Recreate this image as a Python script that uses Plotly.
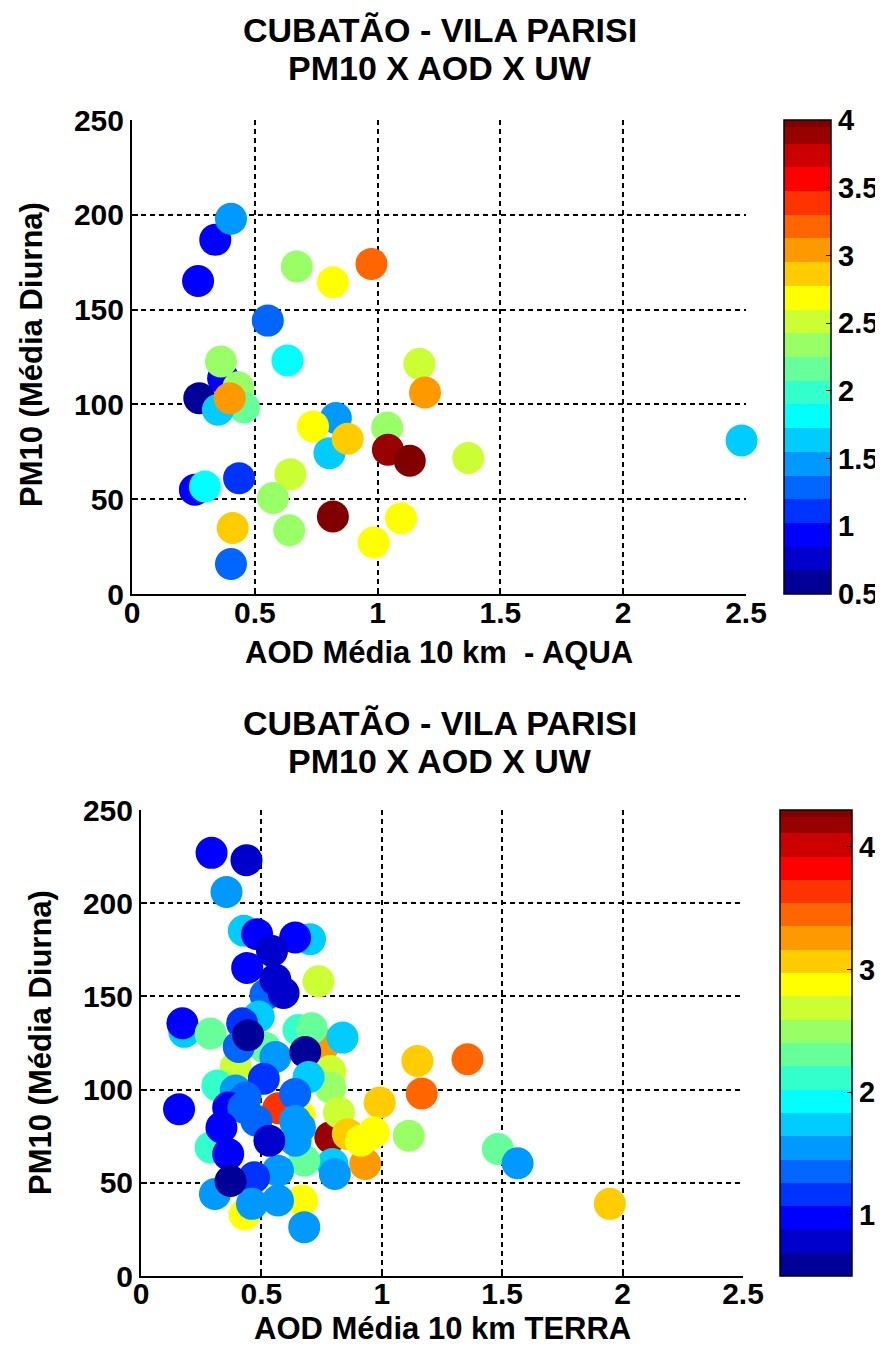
import numpy as np
import plotly.graph_objects as go

# ---------------- data ----------------
# Top panel: AQUA
aqua_aod = [0.371, 0.362, 0.433, 0.456, 0.274, 0.350, 0.398,
            0.339, 0.403, 0.269, 0.671, 0.818, 0.975, 0.553, 0.633, 1.170, 1.193,
            0.830, 0.737, 0.804, 0.878, 1.039, 1.042, 1.131, 1.369, 2.482,
            0.256, 0.297, 0.436, 0.645, 0.574, 0.818, 1.095, 0.410, 0.640, 0.984, 0.403]
aqua_pm10 = [113.8, 122.6, 109.0, 98.4, 103.3, 97.2, 103.3,
             186.8, 197.9, 165.1, 172.7, 164.4, 174.1, 144.2, 123.2, 121.4, 106.3,
             92.8, 88.4, 74.3, 81.9, 87.8, 76.1, 70.3, 71.7, 81.0,
             55.0, 56.7, 61.1, 63.2, 50.6, 40.9, 40.0, 34.8, 33.6, 27.2, 15.8]
aqua_uw = [0.94, 2.34, 2.34, 2.16, 0.59, 1.64, 3.04,
           0.94, 1.46, 0.94, 2.34, 2.69, 3.21, 1.29, 1.81, 2.51, 3.04,
           1.46, 2.69, 1.64, 2.86, 2.34, 3.91, 4.00, 2.51, 1.64,
           0.94, 1.81, 1.11, 2.51, 2.34, 4.00, 2.69, 2.86, 2.34, 2.69, 1.29]

# Bottom panel: TERRA
terra_aod = [0.427, 0.702, 0.517, 0.180, 0.489, 0.760, 0.515, 0.393, 0.786, 0.570,
             0.660, 0.786, 0.430, 0.669, 0.931,
             0.293, 0.438, 0.355, 0.482, 0.640, 0.544, 0.441, 0.558, 0.592, 0.737,
             0.172, 0.289, 0.654, 0.709, 0.837, 0.558, 0.420, 0.406, 0.445, 0.682,
             0.317, 0.393, 0.786, 0.822, 0.696, 0.510, 0.640, 0.158, 0.434, 0.640,
             1.148, 1.356, 1.166, 0.991, 1.112, 1.482, 1.564, 1.947, 0.859, 0.913,
             0.967, 0.795, 0.805,
             0.678, 0.289, 0.362, 0.425, 0.479, 0.334, 0.660, 0.642, 0.362, 0.569,
             0.533, 0.307, 0.470, 0.461, 0.569, 0.678, 0.372]
terra_pm10 = [185.2, 180.7, 150.9, 131.0, 139.2, 124.0, 122.5, 112.1, 110.0, 90.0,
              86.0, 74.4, 33.0, 40.5, 60.1,
              227.0, 223.1, 206.0, 183.4, 181.6, 174.4, 165.3, 159.0, 151.8, 158.1,
              135.6, 130.1, 132.0, 132.9, 127.9, 117.5, 135.6, 122.9, 129.2, 120.2,
              102.2, 99.5, 101.1, 87.7, 106.7, 105.8, 97.7, 89.5, 95.8, 83.2,
              115.4, 116.3, 97.9, 93.1, 75.3, 68.1, 60.5, 38.7, 76.1, 72.6,
              77.0, 60.1, 54.7,
              61.9, 69.0, 90.4, 90.4, 83.3, 79.7, 79.7, 72.6, 65.4, 56.5,
              72.6, 44.0, 53.0, 38.7, 40.5, 26.2, 51.0]
terra_uw = [1.74, 1.74, 1.36, 1.74, 1.74, 3.26, 2.31, 2.69, 2.69, 3.64,
            2.88, 4.21, 2.88, 2.88, 3.26,
            0.98, 0.79, 1.55, 0.98, 0.98, 0.79, 0.98, 0.79, 0.79, 2.69,
            0.98, 2.31, 2.12, 2.31, 1.74, 1.55, 1.17, 1.36, 0.60, 0.60,
            2.12, 1.55, 2.50, 2.69, 1.74, 1.17, 1.36, 0.98, 1.36, 1.55,
            3.07, 3.45, 3.45, 3.07, 2.50, 2.31, 1.55, 3.07, 3.07, 2.88,
            2.88, 1.74, 1.55,
            2.31, 2.12, 0.98, 1.36, 1.36, 0.98, 1.55, 1.55, 0.98, 1.55,
            0.79, 1.55, 1.17, 1.55, 1.55, 1.55, 0.60]

x_ticks = [0, 0.5, 1, 1.5, 2, 2.5]
y_ticks = [0, 50, 100, 150, 200, 250]
cb1_ticks = [0.5, 1, 1.5, 2, 2.5, 3, 3.5, 4]
cb2_ticks = [1, 2, 3, 4]

title_l1 = "CUBATÃO - VILA PARISI"
title_l2 = "PM10 X AOD X UW"
xlabel_top = "AOD Média 10 km  - AQUA"
xlabel_bot = "AOD Média 10 km TERRA"
ylabel = "PM10 (Média Diurna)"


# ---------------- stepped "jet" colour scale (web-palette look) ----------------
def stepped_jet():
    ts = np.linspace(0, 1, 4001)

    def q(c):
        return int(np.floor(np.clip(c, 0, 1) * 5 + 0.5 + 1e-9)) * 51

    cols = []
    for t in ts:
        if t >= 0.985:
            cols.append("rgb(128,0,0)")
            continue
        r = 1.5 - abs(4 * t - 3)
        g = 1.5 - abs(4 * t - 2)
        b = 1.5 - abs(4 * t - 1)
        cols.append("rgb(%d,%d,%d)" % (q(r), q(g), q(b)))
    scale = []
    start = 0.0
    cur = cols[0]
    for i in range(1, len(ts)):
        if cols[i] != cur:
            edge = float((ts[i - 1] + ts[i]) / 2)
            scale += [[start, cur], [edge, cur]]
            start = edge
            cur = cols[i]
    scale += [[start, cur], [1.0, cur]]
    return scale


cscale = stepped_jet()

W, H = 883, 1347
FONT = "Liberation Sans"
tick_font = dict(family=FONT, size=30, color="black", weight="bold")
cb_font = dict(family=FONT, size=29, color="black", weight="bold")


def px_x(p):
    return p / W


def px_y(p):
    return 1 - p / H


fig = go.Figure()
fig.add_trace(go.Scatter(
    x=aqua_aod, y=aqua_pm10, mode="markers", xaxis="x", yaxis="y",
    marker=dict(size=32, color=aqua_uw, coloraxis="coloraxis", line=dict(width=0)),
    cliponaxis=False, showlegend=False, hoverinfo="skip"))
fig.add_trace(go.Scatter(
    x=terra_aod, y=terra_pm10, mode="markers", xaxis="x2", yaxis="y2",
    marker=dict(size=32, color=terra_uw, coloraxis="coloraxis2", line=dict(width=0)),
    cliponaxis=False, showlegend=False, hoverinfo="skip"))

axis_common = dict(
    showgrid=True, gridcolor="black", gridwidth=1.5, griddash="5px,4px",
    showline=True, linecolor="black", linewidth=2, mirror=False,
    ticks="inside", ticklen=6, tickcolor="black", tickwidth=1.5,
    zeroline=False, tickfont=tick_font, fixedrange=True,
)

# pixel geometry
top_x = (124, 738)
top_y = (112, 586)
bot_x = (133, 735)
bot_y = (802, 1268)

fig.update_layout(
    width=W, height=H,
    margin=dict(l=0, r=0, t=0, b=0, autoexpand=False),
    paper_bgcolor="white", plot_bgcolor="white",
    showlegend=False,
    xaxis=dict(domain=[px_x(top_x[0]), px_x(top_x[1])], range=[0, 2.5],
               tickvals=x_ticks, ticktext=[str(v) for v in x_ticks],
               ticklabelstandoff=-9, anchor="y", **axis_common),
    yaxis=dict(domain=[px_y(top_y[1]), px_y(top_y[0])], range=[0, 250],
               tickvals=y_ticks, anchor="x", **axis_common),
    xaxis2=dict(domain=[px_x(bot_x[0]), px_x(bot_x[1])], range=[0, 2.5],
                tickvals=x_ticks, ticktext=[str(v) for v in x_ticks],
                ticklabelstandoff=-10, anchor="y2", **axis_common),
    yaxis2=dict(domain=[px_y(bot_y[1]), px_y(bot_y[0])], range=[0, 250],
                tickvals=y_ticks, anchor="x2", **axis_common),
    coloraxis=dict(
        colorscale=cscale, cmin=0.5, cmax=4.0,
        colorbar=dict(
            x=px_x(776), xanchor="left", xpad=0,
            y=px_y(top_y[1]), yanchor="bottom", ypad=0,
            len=(top_y[1] - top_y[0]) / H, lenmode="fraction",
            thickness=47, thicknessmode="pixels",
            outlinecolor="black", outlinewidth=1.5,
            tickvals=cb1_ticks, ticktext=[("%g" % v) for v in cb1_ticks],
            ticks="inside", ticklen=5, tickcolor="black",
            tickfont=cb_font,
        ),
    ),
    coloraxis2=dict(
        colorscale=cscale, cmin=0.5, cmax=4.3,
        colorbar=dict(
            x=px_x(772), xanchor="left", xpad=0,
            y=px_y(bot_y[1]), yanchor="bottom", ypad=0,
            len=(bot_y[1] - bot_y[0]) / H, lenmode="fraction",
            thickness=72, thicknessmode="pixels",
            outlinecolor="black", outlinewidth=1.5,
            tickvals=cb2_ticks, ticktext=[("%g" % v) for v in cb2_ticks],
            ticks="inside", ticklen=5, tickcolor="black",
            tickfont=cb_font,
        ),
    ),
)

title_font = dict(family=FONT, size=34, color="black", weight="bold")
label_font = dict(family=FONT, size=31, color="black", weight="bold")


def ann(text, xp, yp, font, angle=0):
    fig.add_annotation(text=text, x=px_x(xp), y=px_y(yp), xref="paper", yref="paper",
                       xanchor="center", yanchor="middle", showarrow=False,
                       font=font, textangle=angle)


# titles
ann(title_l1, 432, 22, title_font)
ann(title_l2, 432, 60, title_font)
ann(title_l1, 432, 715, title_font)
ann(title_l2, 432, 753, title_font)
# axis labels
ann(xlabel_top, 431, 644, label_font)
ann(xlabel_bot, 434, 1320, label_font)
ann(ylabel, 24, 347, label_font, angle=-90)
ann(ylabel, 32, 1035, label_font, angle=-90)

fig.write_html("out.html")
